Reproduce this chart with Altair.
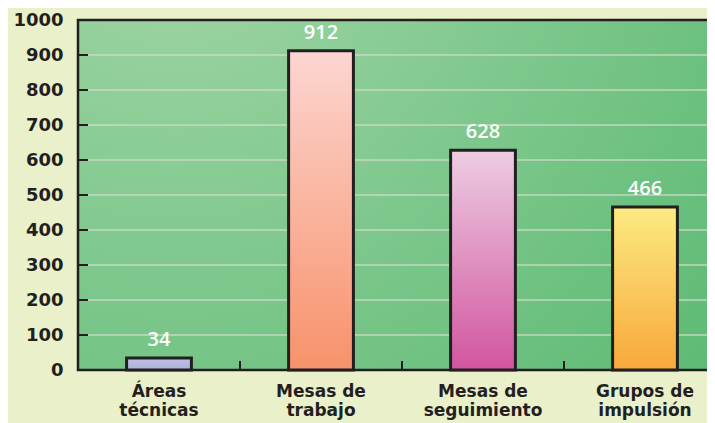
import altair as alt
import pandas as pd

categories = ["Áreas técnicas", "Mesas de trabajo", "Mesas de seguimiento", "Grupos de impulsión"]
values = [34, 912, 628, 466]
top_colors = ["#BEC0E3", "#FCD5D1", "#EDCDE3", "#FCEB82"]
bottom_colors = ["#AEB2DA", "#F7926A", "#D2559F", "#F8A83B"]
y_ticks = [0, 100, 200, 300, 400, 500, 600, 700, 800, 900, 1000]

W, H = 629, 350
FULL = 648
STEP = FULL / len(categories)
PAD_IN = 0.6
INK = "#231F20"

df = pd.DataFrame({"cat": categories, "value": values})
xscale = alt.Scale(domain=categories, range=[0, FULL], paddingInner=PAD_IN, paddingOuter=PAD_IN / 2)
yscale = alt.Scale(domain=[0, 1000])

xaxis = alt.Axis(labelAngle=0, labelFont="DejaVu Sans", labelFontWeight="bold",
                 labelFontSize=17, labelColor=INK, labelPadding=13,
                 labelLineHeight=19, labelBaseline="top",
                 labelExpr="[substring(datum.label,0,lastindexof(datum.label,' ')), substring(datum.label,lastindexof(datum.label,' ')+1)]",
                 domain=False, ticks=False, grid=False)
yaxis = alt.Axis(values=y_ticks, format="d", labelFont="DejaVu Sans", labelFontWeight="bold",
                 labelFontSize=18, labelColor=INK, labelPadding=15,
                 domain=False, ticks=False, grid=False)

bg = alt.Chart(pd.DataFrame({"a": [0]})).mark_rect(
    fill=alt.Gradient(
        gradient="radial", x1=0.15, y1=0.07, r1=0, x2=0.15, y2=0.07, r2=1.1,
        stops=[alt.GradientStop(offset=0, color="#A2D6A6"),
               alt.GradientStop(offset=1, color="#5CBA74")]),
    stroke=INK, strokeWidth=2.5
).encode(x=alt.value(0), x2=alt.value(FULL), y=alt.value(0), y2=alt.value(H))

tick_df = pd.DataFrame({"value": y_ticks})
grid = alt.Chart(tick_df).transform_filter("datum.value > 0 && datum.value < 1000").mark_rule(
    color="#CFDCC6", strokeWidth=1.6, opacity=0.85
).encode(y=alt.Y("value:Q", scale=yscale, axis=yaxis, title=None), x=alt.value(0), x2=alt.value(FULL))

yt = alt.Chart(tick_df).mark_rule(color=INK, strokeWidth=2).encode(
    y=alt.Y("value:Q", scale=yscale, axis=yaxis, title=None), x=alt.value(0), x2=alt.value(10))

xt = alt.Chart(pd.DataFrame({"cat": categories[1:]})).mark_rule(
    color=INK, strokeWidth=2, xOffset=-STEP * PAD_IN / 2
).encode(
    x=alt.X("cat:N", scale=xscale, bandPosition=0, axis=xaxis, title=None),
    y=alt.value(H - 9), y2=alt.value(H))

bars = []
for c, t, b in zip(categories, top_colors, bottom_colors):
    bars.append(
        alt.Chart(df).transform_filter(alt.datum.cat == c).mark_bar(
            fill=alt.Gradient(gradient="linear", x1=0, y1=0, x2=0, y2=1,
                              stops=[alt.GradientStop(offset=0, color=t),
                                     alt.GradientStop(offset=1, color=b)]),
            stroke=INK, strokeWidth=3
        ).encode(
            x=alt.X("cat:N", scale=xscale, title=None, axis=xaxis),
            y=alt.Y("value:Q", scale=yscale, title=None, axis=yaxis),
        )
    )

labels = alt.Chart(df).mark_text(
    font="Open Sans", fontSize=20, fontWeight=600, color="white", baseline="middle", dy=-18
).encode(x=alt.X("cat:N", scale=xscale, axis=xaxis, title=None),
         y=alt.Y("value:Q", scale=yscale, axis=yaxis, title=None), text="value:Q")

chart = alt.layer(bg, grid, *bars, labels, yt, xt).properties(
    width=W, height=H,
    autosize=alt.AutoSizeParams(type="none"),
    padding={"left": 70, "top": 12, "right": 0, "bottom": 53},
    background="#EAF0C9",
).configure_view(stroke=None)

chart.save("out.html", embed_options={"renderer": "svg", "actions": False})
